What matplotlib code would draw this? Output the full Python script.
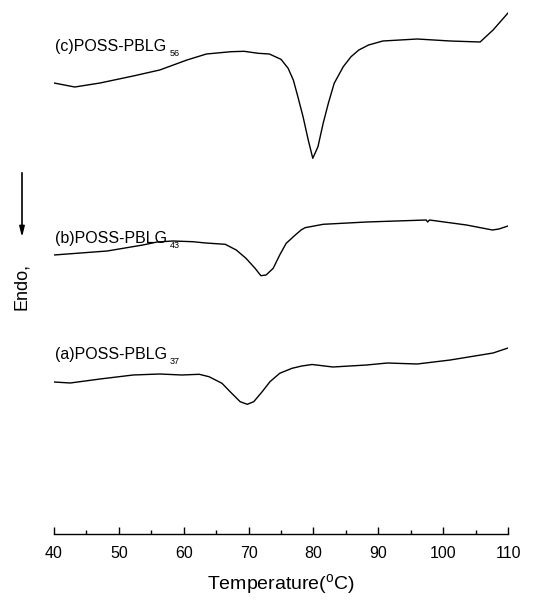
import matplotlib
matplotlib.use("Agg")
import matplotlib.pyplot as plt
import numpy as np

plt.rcParams['font.family'] = ['Liberation Sans', 'DejaVu Sans']
plt.rcParams['mathtext.fontset'] = 'custom'
plt.rcParams['mathtext.rm'] = 'Liberation Sans'

# DSC traces, heat flow in arbitrary units (curves already offset)
temp_c = [40.0, 43.2, 47.1, 52.2, 56.3, 60.5, 63.5, 67.3, 69.3, 71.5, 73.2, 75.0,
          76.1, 76.9, 77.6, 78.4, 79.2, 79.9, 80.7, 81.5, 82.3, 83.2, 84.6,
          85.8, 87.0, 88.5, 90.7, 96.0, 101.1, 105.7, 107.7, 110.0]
flow_c = [45.1, 44.7, 45.1, 45.8, 46.4, 47.4, 48.0, 48.23, 48.27, 48.07, 48.0, 47.47,
          46.57, 45.4, 43.73, 41.73, 39.4, 37.57, 38.73, 41.07, 43.07, 45.07, 46.73,
          47.73, 48.4, 48.9, 49.3, 49.5, 49.3, 49.2, 50.4, 52.1]

temp_b = [40.0, 48.2, 53.7, 55.9, 58.3, 61.4, 63.4, 66.4, 68.1, 69.6, 71.0, 71.9,
          72.7, 73.8, 74.8, 75.8, 77.2, 78.1, 78.7, 81.5, 88.2, 97.4, 97.6, 97.9,
          103.6, 107.6, 108.6, 110.0]
flow_b = [27.9, 28.3, 28.9, 29.2, 29.3, 29.23, 29.1, 28.97, 28.4, 27.57, 26.57, 25.83,
          25.9, 26.57, 27.9, 29.07, 29.9, 30.4, 30.63, 30.97, 31.2, 31.4, 31.2, 31.4,
          30.9, 30.4, 30.5, 30.8]

temp_a = [40.0, 42.5, 47.1, 52.2, 56.3, 59.7, 62.4, 63.9, 65.9, 67.4, 68.7, 69.8,
          70.8, 72.1, 73.3, 74.8, 76.7, 78.2, 79.8, 83.0, 88.2, 91.4, 96.0, 101.1,
          107.7, 110.0]
flow_a = [15.2, 15.1, 15.5, 15.9, 16.0, 15.9, 15.97, 15.73, 15.07, 14.07, 13.23, 12.97,
          13.23, 14.23, 15.23, 16.07, 16.57, 16.8, 16.95, 16.7, 16.9, 17.1, 17.0, 17.4,
          18.1, 18.6]

labels = ['(c)POSS-PBLG', '(b)POSS-PBLG', '(a)POSS-PBLG']
subs = ['56', '43', '37']
label_y = [48.7, 29.6, 17.9]
xticks = [40, 50, 60, 70, 80, 90, 100, 110]

fig = plt.figure(figsize=(5.39, 6.08), dpi=100)
ax = fig.add_axes([54 / 539, 74 / 608, 454 / 539, 534 / 608])

for t, f in [(temp_c, flow_c), (temp_b, flow_b), (temp_a, flow_a)]:
    ax.plot(t, f, color='black', lw=1.0, solid_joinstyle='round')

for lab, sub, y in zip(labels, subs, label_y):
    ax.text(40.2, y, lab, fontsize=11.5, va='center', ha='left')
    ax.text(57.8, y - 0.7, sub, fontsize=6.5, va='center', ha='left')

ax.set_xlim(40, 110)
ax.set_ylim(0, 53.4)
for side in ['left', 'right', 'top']:
    ax.spines[side].set_visible(False)
ax.spines['bottom'].set_linewidth(1.0)
ax.set_yticks([])
ax.set_xticks(xticks)
ax.set_xticks(np.arange(45, 110, 10), minor=True)
ax.tick_params(axis='x', which='major', direction='in', length=5, width=1,
               labelsize=11.5, pad=9)
ax.tick_params(axis='x', which='minor', direction='in', length=3, width=1)
ax.set_xlabel(r'Temperature($^{\mathrm{o}}$C)', fontsize=14, labelpad=8)

# endothermic direction arrow
fig.text(22 / 539, 1 - 286 / 608, 'Endo,', rotation=90, fontsize=13,
         ha='center', va='center')
ax.annotate('', xy=(22 / 539, 1 - 240 / 608), xytext=(22 / 539, 1 - 170 / 608),
            xycoords='figure fraction', textcoords='figure fraction',
            arrowprops=dict(arrowstyle='-|>,head_length=0.6,head_width=0.15',
                            color='black', lw=1.2))

fig.savefig('out.png', dpi=100)
